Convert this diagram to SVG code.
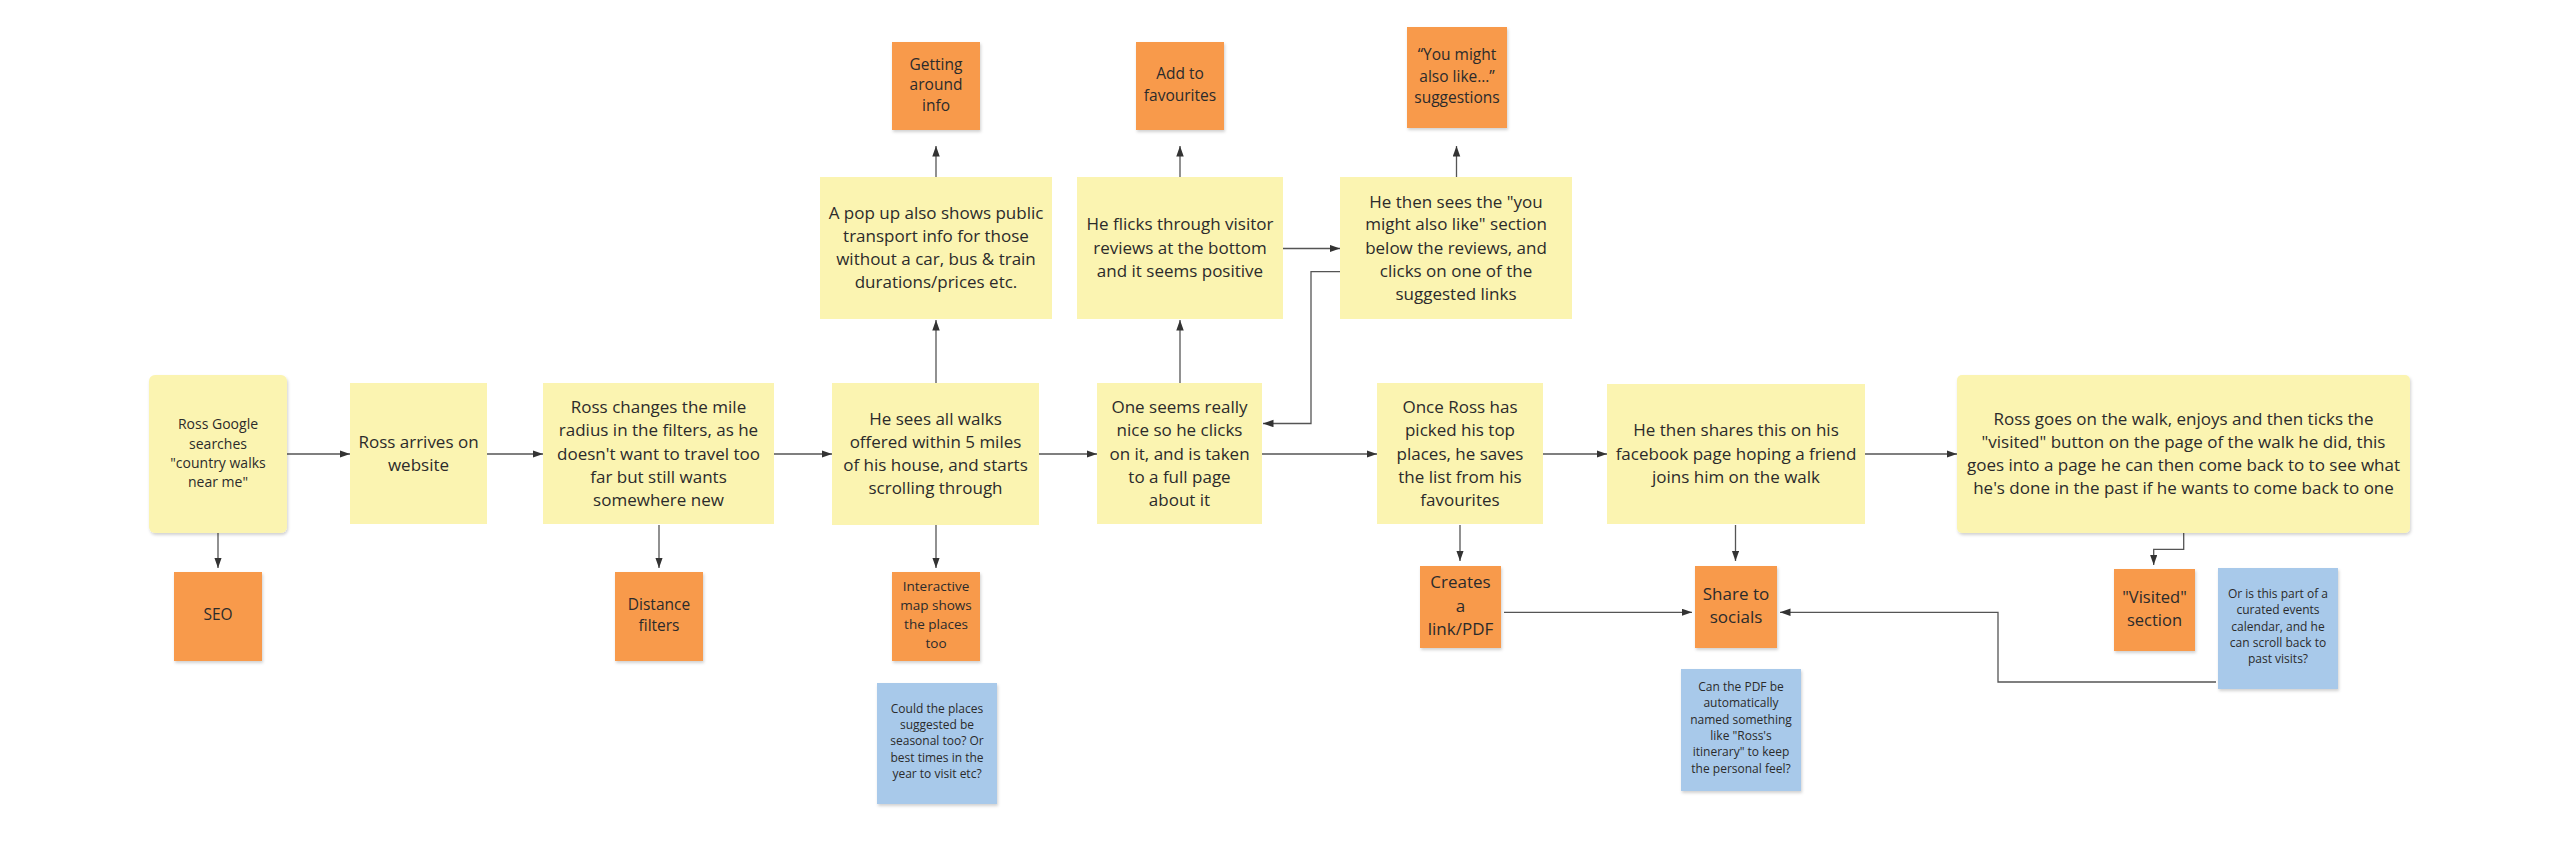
<svg xmlns="http://www.w3.org/2000/svg" width="2561" height="841" viewBox="0 0 2561 841">
<style>
text{font-family:"Open Sans","Liberation Sans",sans-serif;fill:#2b2b2b;text-anchor:middle}
.y{fill:#FBF4B1}
.o{fill:#F89A4B}
.b{fill:#A8C9EA}
.sh{filter:url(#sh)}
.t17{font-size:17px}
.t15{font-size:15.5px}
.t14{font-size:14px}
.t13{font-size:13.5px}
.t12{font-size:12px}
.c{fill:none;stroke:#555;stroke-width:1.3}
.a{marker-end:url(#ah)}
</style>
<defs>
<filter id="sh" x="-10%" y="-10%" width="125%" height="125%">
<feDropShadow dx="1" dy="2" stdDeviation="1.5" flood-color="#000" flood-opacity="0.18"/>
</filter>
<marker id="ah" markerUnits="userSpaceOnUse" markerWidth="11" markerHeight="8" refX="10.5" refY="3.75" orient="auto">
<path d="M0,0 L10.5,3.75 L0,7.5 z" fill="#333"/>
</marker>
</defs>
<rect width="2561" height="841" fill="#fff"/>

<g id="connectors">
<line class="c a" x1="287" y1="454" x2="350" y2="454"/>
<line class="c a" x1="487" y1="454" x2="543" y2="454"/>
<line class="c a" x1="774" y1="454" x2="832" y2="454"/>
<line class="c a" x1="1039" y1="454" x2="1097" y2="454"/>
<line class="c a" x1="1262" y1="454" x2="1377" y2="454"/>
<line class="c a" x1="1543" y1="454" x2="1607" y2="454"/>
<line class="c a" x1="1865" y1="454" x2="1957" y2="454"/>
<line class="c a" x1="218" y1="533" x2="218" y2="568"/>
<line class="c a" x1="659" y1="525" x2="659" y2="568"/>
<line class="c a" x1="936" y1="525" x2="936" y2="568"/>
<line class="c a" x1="1460" y1="525" x2="1460" y2="561"/>
<line class="c a" x1="1735.5" y1="525" x2="1735.5" y2="561"/>
<line class="c a" x1="936" y1="383" x2="936" y2="320"/>
<line class="c a" x1="1180" y1="383" x2="1180" y2="320"/>
<line class="c a" x1="936" y1="177" x2="936" y2="146"/>
<line class="c a" x1="1180" y1="177" x2="1180" y2="146"/>
<line class="c a" x1="1456.5" y1="177" x2="1456.5" y2="146"/>
<line class="c a" x1="1283" y1="248.5" x2="1340" y2="248.5"/>
<polyline class="c a" points="1340,271.7 1311,271.7 1311,423.5 1263,423.5"/>
<line class="c a" x1="1504" y1="612.3" x2="1692" y2="612.3"/>
<polyline class="c a" points="2216,682 1998,682 1998,612.3 1780,612.3"/>
<polyline class="c a" points="2183.7,533 2183.7,549.3 2153.7,549.3 2153.7,565"/>
</g>

<g id="n-google">
<rect class="y sh" x="149" y="375" width="138" height="158" rx="6"/>
<text class="t14" x="218"><tspan x="218" y="429.3">Ross Google</tspan><tspan x="218" y="448.6">searches</tspan><tspan x="218" y="467.9">"country walks</tspan><tspan x="218" y="487.2">near me"</tspan></text>
</g>
<g id="n-arrives">
<rect class="y" x="350" y="383" width="137" height="141"/>
<text class="t17"><tspan x="418.5" y="448">Ross arrives on</tspan><tspan x="418.5" y="471">website</tspan></text>
</g>
<g id="n-changes">
<rect class="y" x="543" y="383" width="231" height="141"/>
<text class="t17"><tspan x="658.5" y="412.8">Ross changes the mile</tspan><tspan x="658.5" y="436.1">radius in the filters, as he</tspan><tspan x="658.5" y="459.5">doesn't want to travel too</tspan><tspan x="658.5" y="482.8">far but still wants</tspan><tspan x="658.5" y="506">somewhere new</tspan></text>
</g>
<g id="n-sees">
<rect class="y" x="832" y="383" width="207" height="142"/>
<text class="t17"><tspan x="935.5" y="424.5">He sees all walks</tspan><tspan x="935.5" y="447.8">offered within 5 miles</tspan><tspan x="935.5" y="471.1">of his house, and starts</tspan><tspan x="935.5" y="494.4">scrolling through</tspan></text>
</g>
<g id="n-one">
<rect class="y" x="1097" y="383" width="165" height="141"/>
<text class="t17"><tspan x="1179.5" y="412.8">One seems really</tspan><tspan x="1179.5" y="436.1">nice so he clicks</tspan><tspan x="1179.5" y="459.5">on it, and is taken</tspan><tspan x="1179.5" y="482.8">to a full page</tspan><tspan x="1179.5" y="506">about it</tspan></text>
</g>
<g id="n-once">
<rect class="y" x="1377" y="383" width="166" height="141"/>
<text class="t17"><tspan x="1460" y="412.8">Once Ross has</tspan><tspan x="1460" y="436.1">picked his top</tspan><tspan x="1460" y="459.5">places, he saves</tspan><tspan x="1460" y="482.8">the list from his</tspan><tspan x="1460" y="506">favourites</tspan></text>
</g>
<g id="n-shares">
<rect class="y" x="1607" y="384" width="258" height="140"/>
<text class="t17"><tspan x="1736" y="436.1">He then shares this on his</tspan><tspan x="1736" y="459.5">facebook page hoping a friend</tspan><tspan x="1736" y="482.8">joins him on the walk</tspan></text>
</g>
<g id="n-walk">
<rect class="y sh" x="1957" y="375" width="453" height="158" rx="5"/>
<text class="t17"><tspan x="2183.5" y="424.5">Ross goes on the walk, enjoys and then ticks the</tspan><tspan x="2183.5" y="447.8">"visited" button on the page of the walk he did, this</tspan><tspan x="2183.5" y="471.1">goes into a page he can then come back to to see what</tspan><tspan x="2183.5" y="494.4">he's done in the past if he wants to come back to one</tspan></text>
</g>
<g id="n-popup">
<rect class="y" x="820" y="177" width="232" height="142"/>
<text class="t17"><tspan x="936" y="219.3">A pop up also shows public</tspan><tspan x="936" y="242.3">transport info for those</tspan><tspan x="936" y="265.3">without a car, bus &amp; train</tspan><tspan x="936" y="288.3">durations/prices etc.</tspan></text>
</g>
<g id="n-flicks">
<rect class="y" x="1077" y="177" width="206" height="142"/>
<text class="t17"><tspan x="1180" y="229.8">He flicks through visitor</tspan><tspan x="1180" y="253.6">reviews at the bottom</tspan><tspan x="1180" y="277.1">and it seems positive</tspan></text>
</g>
<g id="n-thensees">
<rect class="y" x="1340" y="177" width="232" height="142"/>
<text class="t17"><tspan x="1456" y="207.5">He then sees the "you</tspan><tspan x="1456" y="230.1">might also like" section</tspan><tspan x="1456" y="253.8">below the reviews, and</tspan><tspan x="1456" y="277.1">clicks on one of the</tspan><tspan x="1456" y="300.1">suggested links</tspan></text>
</g>
<g id="n-getting">
<rect class="o sh" x="892" y="42" width="88" height="88"/>
<text class="t15"><tspan x="936" y="69.6">Getting</tspan><tspan x="936" y="90.3">around</tspan><tspan x="936" y="111.3">info</tspan></text>
</g>
<g id="n-fav">
<rect class="o sh" x="1136" y="42" width="88" height="88"/>
<text class="t15"><tspan x="1180" y="79.3">Add to</tspan><tspan x="1180" y="101.3">favourites</tspan></text>
</g>
<g id="n-might">
<rect class="o sh" x="1407" y="27" width="100" height="101"/>
<text class="t15"><tspan x="1457" y="60">“You might</tspan><tspan x="1457" y="81.6">also like…”</tspan><tspan x="1457" y="103.2">suggestions</tspan></text>
</g>
<g id="n-seo">
<rect class="o sh" x="174" y="572" width="88" height="89"/>
<text class="t15" x="218" y="620">SEO</text>
</g>
<g id="n-distance">
<rect class="o sh" x="615" y="572" width="88" height="89"/>
<text class="t15"><tspan x="659" y="610.3">Distance</tspan><tspan x="659" y="631">filters</tspan></text>
</g>
<g id="n-map">
<rect class="o sh" x="892" y="572" width="88" height="89"/>
<text class="t13"><tspan x="936" y="590.9">Interactive</tspan><tspan x="936" y="610.3">map shows</tspan><tspan x="936" y="629.3">the places</tspan><tspan x="936" y="647.9">too</tspan></text>
</g>
<g id="n-q1">
<rect class="b sh" x="877" y="683" width="120" height="121"/>
<text class="t12"><tspan x="937" y="713.4">Could the places</tspan><tspan x="937" y="729.4">suggested be</tspan><tspan x="937" y="745.4">seasonal too? Or</tspan><tspan x="937" y="761.8">best times in the</tspan><tspan x="937" y="777.8">year to visit etc?</tspan></text>
</g>
<g id="n-creates">
<rect class="o sh" x="1420" y="566" width="81" height="82"/>
<text class="t17"><tspan x="1460.5" y="588.3">Creates</tspan><tspan x="1460.5" y="611.5">a</tspan><tspan x="1460.5" y="634.7">link/PDF</tspan></text>
</g>
<g id="n-share">
<rect class="o sh" x="1695" y="566" width="82" height="82"/>
<text class="t17"><tspan x="1736" y="599.8">Share to</tspan><tspan x="1736" y="623.1">socials</tspan></text>
</g>
<g id="n-q2">
<rect class="b sh" x="1681" y="669" width="120" height="122"/>
<text class="t12"><tspan x="1741" y="690.8">Can the PDF be</tspan><tspan x="1741" y="707.1">automatically</tspan><tspan x="1741" y="724.1">named something</tspan><tspan x="1741" y="740.1">like "Ross's</tspan><tspan x="1741" y="756.4">itinerary" to keep</tspan><tspan x="1741" y="772.8">the personal feel?</tspan></text>
</g>
<g id="n-visited">
<rect class="o sh" x="2114" y="569" width="81" height="82"/>
<text style="font-size:16.5px"><tspan x="2154.5" y="603.3">"Visited"</tspan><tspan x="2154.5" y="625.6">section</tspan></text>
</g>
<g id="n-q3">
<rect class="b sh" x="2218" y="568" width="120" height="121"/>
<text class="t12"><tspan x="2278" y="598.1">Or is this part of a</tspan><tspan x="2278" y="614.4">curated events</tspan><tspan x="2278" y="630.8">calendar, and he</tspan><tspan x="2278" y="647.1">can scroll back to</tspan><tspan x="2278" y="663.4">past visits?</tspan></text>
</g>
</svg>
